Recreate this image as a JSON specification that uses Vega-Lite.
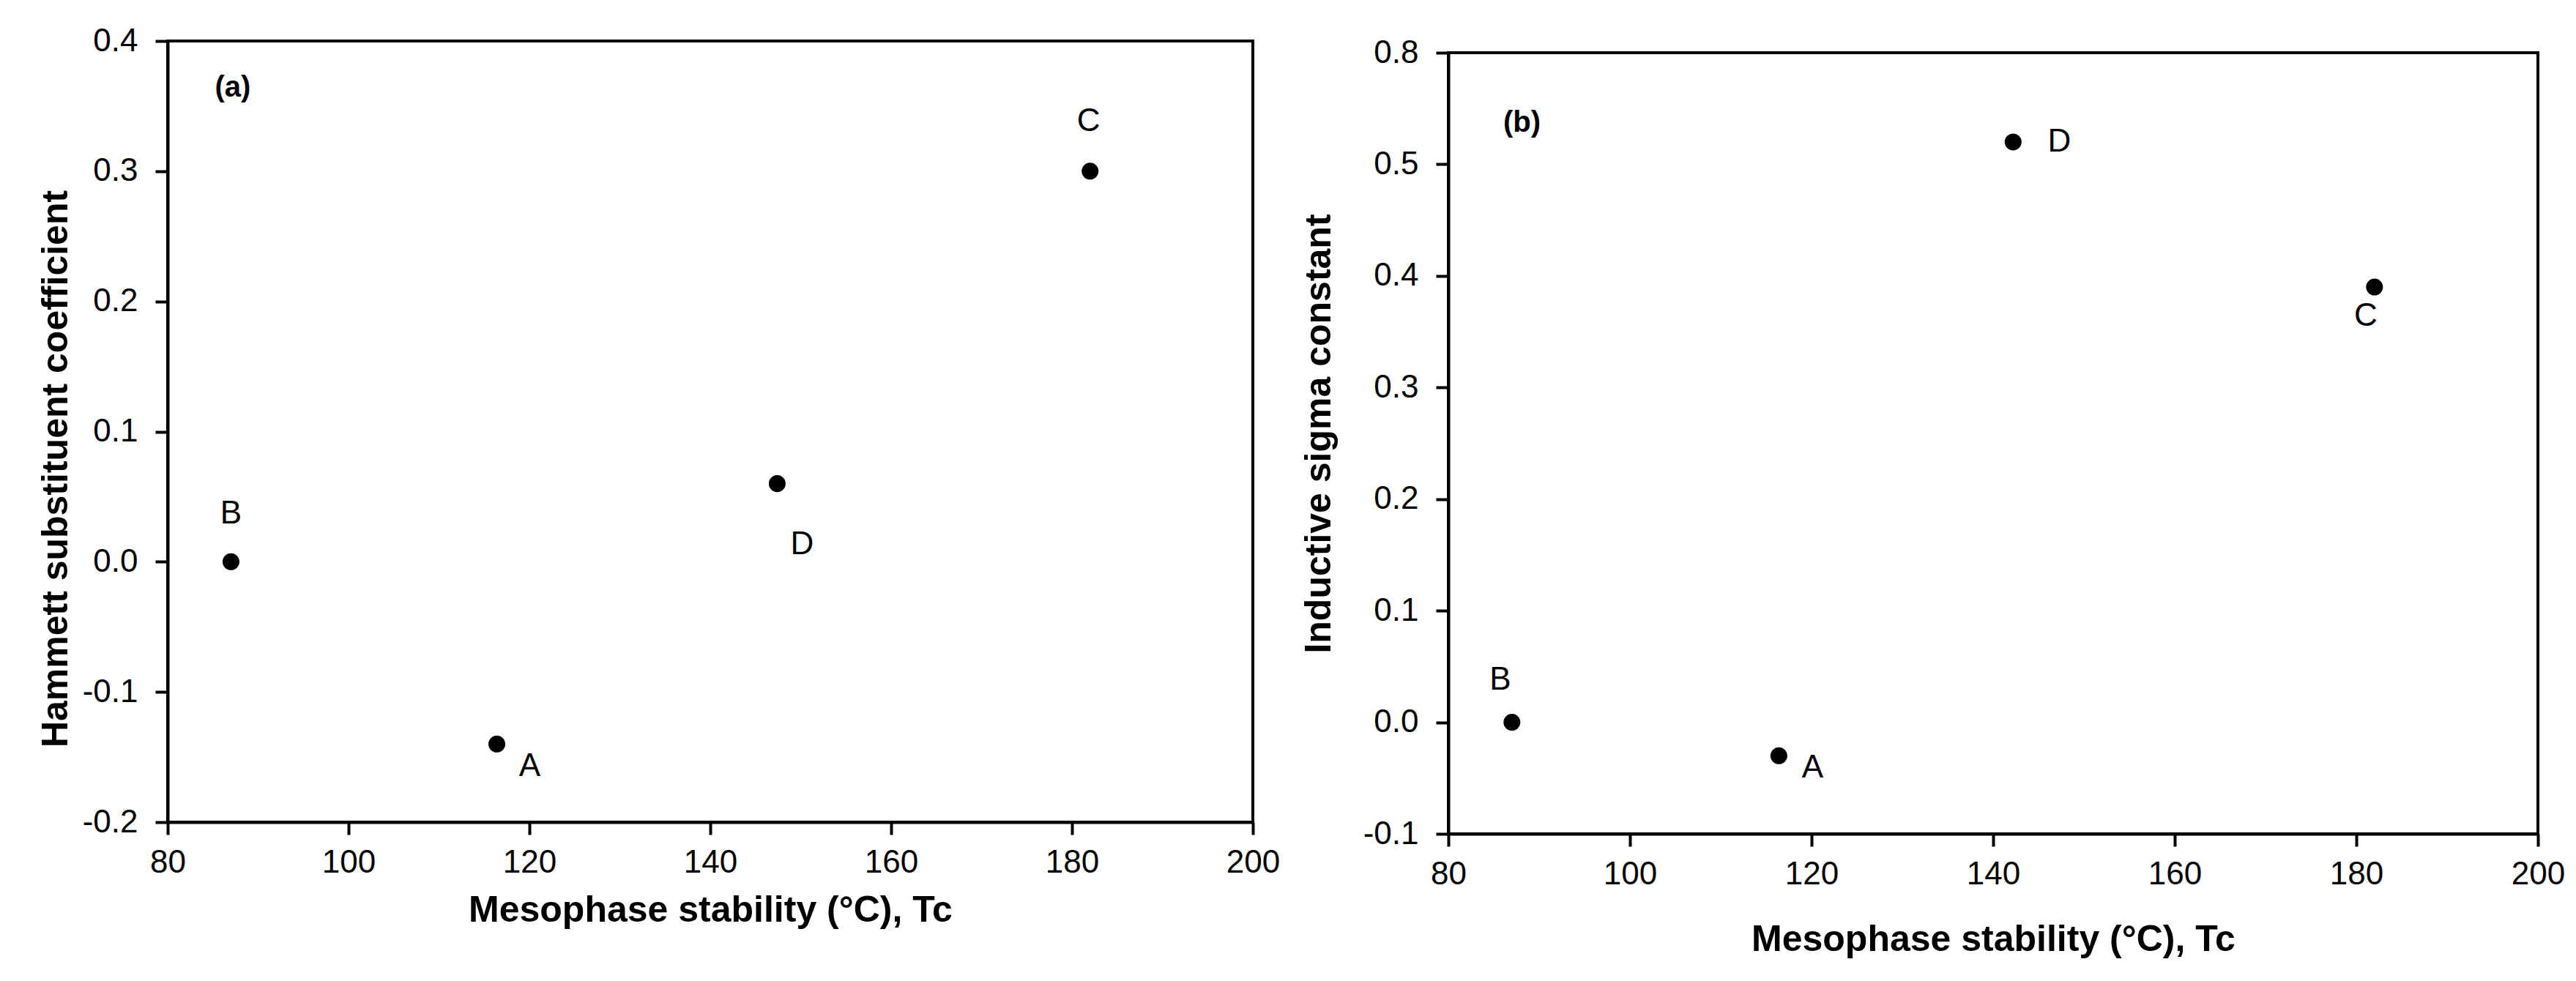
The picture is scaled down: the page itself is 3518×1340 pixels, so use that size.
{
  "$schema": "https://vega.github.io/schema/vega-lite/v6.json",
  "padding": {"left": 49, "top": 32, "right": 0, "bottom": 0},
  "background": "white",
  "config": {
    "font": "Liberation Sans",
    "view": {"stroke": "black", "strokeWidth": 4},
    "axis": {
      "grid": false,
      "domainColor": "black",
      "domainWidth": 4,
      "tickColor": "black",
      "tickWidth": 4,
      "tickSize": 17,
      "labelColor": "black",
      "labelFont": "Liberation Sans",
      "labelFontSize": 44,
      "labelFlush": false,
      "titleColor": "black",
      "titleFont": "Liberation Sans",
      "titleFontSize": 50,
      "titleFontWeight": "bold"
    }
  },
  "datasets": {
    "hammett": [
      {"compound": "A", "tc": 116.4, "value": -0.14},
      {"compound": "B", "tc": 87.0, "value": 0.0},
      {"compound": "C", "tc": 182.0, "value": 0.30},
      {"compound": "D", "tc": 147.4, "value": 0.06}
    ],
    "sigma": [
      {"compound": "A", "tc": 116.4, "value": -0.03},
      {"compound": "B", "tc": 87.0, "value": 0.0},
      {"compound": "C", "tc": 182.0, "value": 0.39},
      {"compound": "D", "tc": 142.2, "value": 0.52}
    ],
    "panels": [
      {"panel": "(a)"},
      {"panel": "(b)"}
    ]
  },
  "spacing": 24,
  "hconcat": [
    {
      "width": 1482,
      "height": 1067,
      "layer": [
        {
          "data": {"name": "hammett"},
          "mark": {"type": "circle", "size": 530, "color": "black", "opacity": 1},
          "encoding": {
            "x": {
              "field": "tc", "type": "quantitative",
              "scale": {"domain": [80, 200], "nice": false, "zero": false},
              "axis": {
                "orient": "bottom",
                "values": [80, 100, 120, 140, 160, 180, 200],
                "labelPadding": 16,
                "title": "Mesophase stability (°C), Tc",
                "titleY": 120,
                "titleBaseline": "middle"
              }
            },
            "y": {
              "field": "value", "type": "quantitative",
              "scale": {"domain": [-0.2, 0.4], "nice": false, "zero": false},
              "axis": {
                "values": [-0.2, -0.1, 0, 0.1, 0.2, 0.3, 0.4],
                "labelExpr": "replace(format(datum.value, '.1f'), '\u2212', '-')",
                "labelPadding": 24,
                "title": "Hammett substituent coefficient",
                "titleX": -153,
                "titleY": 584,
                "titleAngle": 270,
                "titleBaseline": "middle",
                "titleAlign": "center"
              }
            }
          }
        },
        {
          "data": {"name": "hammett"},
          "transform": [{"filter": "datum.compound == 'A'"}],
          "mark": {"type": "text", "fontSize": 44, "color": "black", "align": "center", "baseline": "middle", "dx": 45, "dy": 31},
          "encoding": {
            "x": {"field": "tc", "type": "quantitative"},
            "y": {"field": "value", "type": "quantitative"},
            "text": {"field": "compound"}
          }
        },
        {
          "data": {"name": "hammett"},
          "transform": [{"filter": "datum.compound == 'B'"}],
          "mark": {"type": "text", "fontSize": 44, "color": "black", "align": "center", "baseline": "middle", "dx": 0, "dy": -65},
          "encoding": {
            "x": {"field": "tc", "type": "quantitative"},
            "y": {"field": "value", "type": "quantitative"},
            "text": {"field": "compound"}
          }
        },
        {
          "data": {"name": "hammett"},
          "transform": [{"filter": "datum.compound == 'C'"}],
          "mark": {"type": "text", "fontSize": 44, "color": "black", "align": "center", "baseline": "middle", "dx": -2, "dy": -68},
          "encoding": {
            "x": {"field": "tc", "type": "quantitative"},
            "y": {"field": "value", "type": "quantitative"},
            "text": {"field": "compound"}
          }
        },
        {
          "data": {"name": "hammett"},
          "transform": [{"filter": "datum.compound == 'D'"}],
          "mark": {"type": "text", "fontSize": 44, "color": "black", "align": "center", "baseline": "middle", "dx": 34, "dy": 83},
          "encoding": {
            "x": {"field": "tc", "type": "quantitative"},
            "y": {"field": "value", "type": "quantitative"},
            "text": {"field": "compound"}
          }
        },
        {
          "data": {"name": "panels"},
          "transform": [{"filter": "datum.panel == '(a)'"}],
          "mark": {"type": "text", "fontSize": 40, "fontWeight": "bold", "color": "black", "align": "center", "baseline": "middle"},
          "encoding": {
            "x": {"datum": 87.2, "type": "quantitative"},
            "y": {"datum": 0.364, "type": "quantitative"},
            "text": {"field": "panel"}
          }
        }
      ]
    },
    {
      "spacing": -9,
      "vconcat": [
        {
          "width": 1,
          "height": 1,
          "view": {"stroke": null},
          "data": {"values": []},
          "mark": "point"
        },
        {
          "width": 1488,
          "height": 1067,
          "layer": [
            {
              "data": {"name": "sigma"},
              "mark": {"type": "circle", "size": 530, "color": "black", "opacity": 1},
              "encoding": {
                "x": {
                  "field": "tc", "type": "quantitative",
                  "scale": {"domain": [80, 200], "nice": false, "zero": false},
                  "axis": {
                    "orient": "bottom",
                    "values": [80, 100, 120, 140, 160, 180, 200],
                    "labelPadding": 16,
                    "title": "Mesophase stability (°C), Tc",
                    "titleY": 144,
                    "titleBaseline": "middle"
                  }
                },
                "y": {
                  "field": "value", "type": "quantitative",
                  "scale": {"domain": [-0.1, 0.6], "nice": false, "zero": false},
                  "axis": {
                    "values": [-0.1, 0, 0.1, 0.2, 0.3, 0.4, 0.5, 0.6],
                    "labelExpr": "datum.value > 0.55 ? '0.8' : replace(format(datum.value, '.1f'), '\u2212', '-')",
                    "labelPadding": 24,
                    "title": "Inductive sigma constant",
                    "titleX": -177,
                    "titleY": 520,
                    "titleAngle": 270,
                    "titleBaseline": "middle",
                    "titleAlign": "center"
                  }
                }
              }
            },
            {
              "data": {"name": "sigma"},
              "transform": [{"filter": "datum.compound == 'A'"}],
              "mark": {"type": "text", "fontSize": 44, "color": "black", "align": "center", "baseline": "middle", "dx": 46, "dy": 17},
              "encoding": {
                "x": {"field": "tc", "type": "quantitative"},
                "y": {"field": "value", "type": "quantitative"},
                "text": {"field": "compound"}
              }
            },
            {
              "data": {"name": "sigma"},
              "transform": [{"filter": "datum.compound == 'B'"}],
              "mark": {"type": "text", "fontSize": 44, "color": "black", "align": "center", "baseline": "middle", "dx": -16, "dy": -58},
              "encoding": {
                "x": {"field": "tc", "type": "quantitative"},
                "y": {"field": "value", "type": "quantitative"},
                "text": {"field": "compound"}
              }
            },
            {
              "data": {"name": "sigma"},
              "transform": [{"filter": "datum.compound == 'C'"}],
              "mark": {"type": "text", "fontSize": 44, "color": "black", "align": "center", "baseline": "middle", "dx": -12, "dy": 40},
              "encoding": {
                "x": {"field": "tc", "type": "quantitative"},
                "y": {"field": "value", "type": "quantitative"},
                "text": {"field": "compound"}
              }
            },
            {
              "data": {"name": "sigma"},
              "transform": [{"filter": "datum.compound == 'D'"}],
              "mark": {"type": "text", "fontSize": 44, "color": "black", "align": "center", "baseline": "middle", "dx": 63, "dy": 0},
              "encoding": {
                "x": {"field": "tc", "type": "quantitative"},
                "y": {"field": "value", "type": "quantitative"},
                "text": {"field": "compound"}
              }
            },
            {
              "data": {"name": "panels"},
              "transform": [{"filter": "datum.panel == '(b)'"}],
              "mark": {"type": "text", "fontSize": 40, "fontWeight": "bold", "color": "black", "align": "center", "baseline": "middle"},
              "encoding": {
                "x": {"datum": 88.1, "type": "quantitative"},
                "y": {"datum": 0.537, "type": "quantitative"},
                "text": {"field": "panel"}
              }
            }
          ]
        }
      ]
    }
  ]
}
